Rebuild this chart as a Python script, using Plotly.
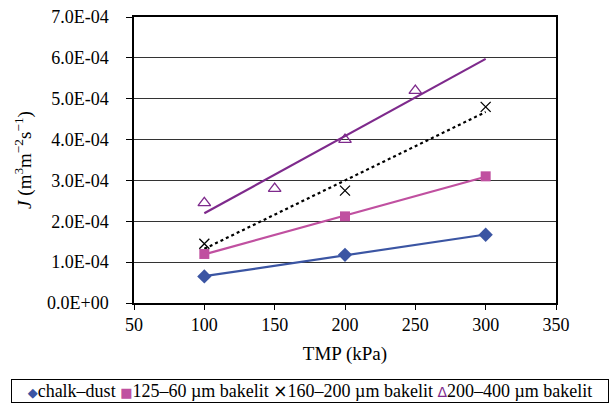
import numpy as np
import plotly.graph_objects as go

# Data
names = ["chalk\u2013dust", "125\u201360 \u00b5m bakelit", "160\u2013200 \u00b5m bakelit", "200\u2013400 \u00b5m bakelit"]
x_chalk = [100, 200, 300]
y_chalk = [6.5e-5, 1.18e-4, 1.67e-4]
x_b125 = [100, 200, 300]
y_b125 = [1.2e-4, 2.12e-4, 3.1e-4]
x_b160 = [100, 200, 300]
y_b160 = [1.45e-4, 2.75e-4, 4.8e-4]
x_b200 = [100, 150, 200, 250]
y_b200 = [2.45e-4, 2.8e-4, 4.0e-4, 5.2e-4]
trend_range = [100, 300]

y_ticks = [0, 1e-4, 2e-4, 3e-4, 4e-4, 5e-4, 6e-4, 7e-4]
y_ticklabels = [f"{v:.1E}" for v in y_ticks]
x_ticks = [50, 100, 150, 200, 250, 300, 350]

colors = ["#3B55A3", "#C050A0", "#000000", "#7E2A8C"]
glyphs = ["\u25C6", "\u25A0", "\u00D7", "\u0394"]
glyph_sizes = [13, 13, 17, 14]
markers = [
    dict(symbol="diamond", size=11),
    dict(symbol="square", size=10),
    dict(symbol="x-thin-open", size=10, line=dict(width=1.3, color="#000000")),
    dict(symbol="triangle-up-open", size=11, line=dict(width=1.3)),
]
dashes = ["solid", "solid", "dot", "solid"]
xs_all = [x_chalk, x_b125, x_b160, x_b200]
ys_all = [y_chalk, y_b125, y_b160, y_b200]

fig = go.Figure()
for xs, ys, col, dash in zip(xs_all, ys_all, colors, dashes):
    k, b = np.polyfit(xs, ys, 1)
    tx = np.array(trend_range, dtype=float)
    fig.add_trace(go.Scatter(
        x=tx, y=k * tx + b, mode="lines",
        line=dict(color=col, width=2.2, dash=dash),
        showlegend=False, hoverinfo="skip"))
for name, xs, ys, col, mk in zip(names, xs_all, ys_all, colors, markers):
    fig.add_trace(go.Scatter(
        x=xs, y=ys, mode="markers", name=name, showlegend=False,
        marker=dict(color=col, **mk)))

font = "Liberation Serif"
legend_text = "\u00a0".join(
    f"<span style='color:{c}; font-family:DejaVu Sans; font-size:{s}px'>{g}</span>{n}"
    for g, c, s, n in zip(glyphs, colors, glyph_sizes, names))

fig.add_annotation(
    text=legend_text, xref="paper", yref="paper", x=(310 - 134) / 422, y=-(391 - 303) / 286,
    xanchor="center", yanchor="middle", showarrow=False,
    font=dict(family=font, size=18, color="#000000"),
    bordercolor="#000000", borderwidth=1, borderpad=1, width=594, align="center")

fig.update_layout(
    width=613, height=405,
    margin=dict(l=134, r=57, t=17, b=102, autoexpand=False),
    paper_bgcolor="white", plot_bgcolor="white",
    font=dict(family=font, size=18, color="#000000"),
    showlegend=False,
    xaxis=dict(range=[50, 350], tickvals=x_ticks, showgrid=False,
               showline=True, linecolor="#000000", linewidth=1.5, mirror=True,
               ticks="outside", ticklen=5, tickcolor="#000000",
               tickfont=dict(family=font, size=18),
               title=dict(text="TMP (kPa)", standoff=12, font=dict(family=font, size=19)),
               zeroline=False),
    yaxis=dict(range=[0, 7e-4], tickvals=y_ticks, ticktext=y_ticklabels,
               showgrid=True, gridcolor="#333333", gridwidth=1.2,
               showline=True, linecolor="#000000", linewidth=1.5, mirror=True,
               ticks="outside", ticklen=6, tickcolor="#000000",
               ticklabelstandoff=14,
               tickfont=dict(family=font, size=18),
               title=dict(text="<i>J</i> (m<sup>3</sup>m<sup>\u22122</sup>s<sup>\u22121</sup>)",
                          standoff=10, font=dict(family=font, size=19)),
               zeroline=False),
)
fig.write_html("out.html")
